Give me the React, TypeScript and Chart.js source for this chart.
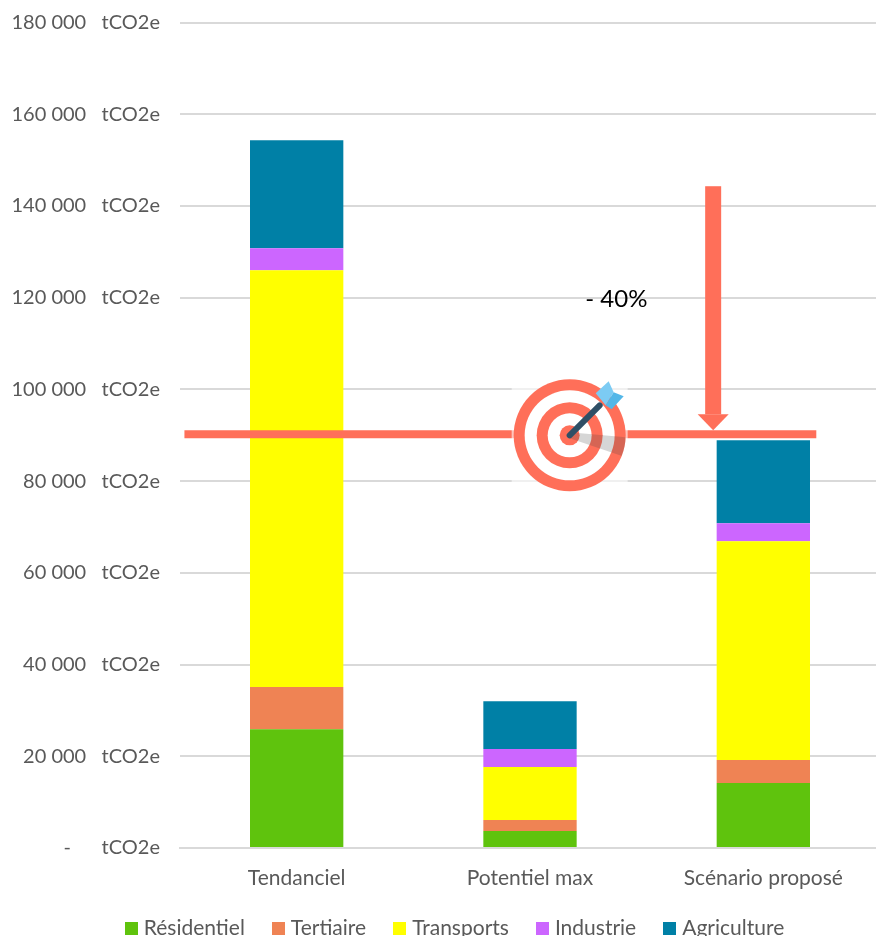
import React, { useEffect, useRef } from "react";
import { Chart, registerables } from "chart.js";

Chart.register(...registerables);

const categories = ["Tendanciel", "Potentiel max", "Scénario proposé"];
const residentiel = [25900, 3700, 14200];
const tertiaire = [9200, 2400, 5000];
const transports = [90900, 11550, 47700];
const industrie = [4750, 3950, 3900];
const agriculture = [23550, 10400, 18100];
const seriesNames = ["Résidentiel", "Tertiaire", "Transports", "Industrie", "Agriculture"];
const seriesColors = ["#5FC30D", "#EF8354", "#FFFF00", "#CC66FF", "#0080A6"];
const yMax = 180000;
const yStep = 20000;
const targetValue = 90200;
const arrowTopValue = 144300;
const targetLabel = "- 40%";
const FONT = "Lato";

function swatch(color: string) {
  const c = document.createElement("canvas");
  c.width = 13;
  c.height = 13;
  const g = c.getContext("2d") as CanvasRenderingContext2D;
  g.fillStyle = color;
  g.fillRect(0, 0, 13, 13);
  return c;
}

const annotationPlugin = {
  id: "annotation",
  afterLayout(chart: any) {
    if (chart.legend) {
      chart.legend.left += 17;
      chart.legend.right += 17;
      chart.legend.top -= 14;
      chart.legend.bottom -= 14;
    }
  },
  afterDatasetsDraw(chart: any) {
    const { ctx, scales } = chart;
    const x = scales.x;
    const y = scales.y;
    const yT = y.getPixelForValue(targetValue);
    ctx.save();
    const red = "#FF6F59";
    // target line
    ctx.strokeStyle = red;
    ctx.lineWidth = 8;
    ctx.beginPath();
    ctx.moveTo(x.getPixelForValue(-0.481), yT);
    ctx.lineTo(x.getPixelForValue(2.227), yT);
    ctx.stroke();
    // arrow
    const ax = x.getPixelForValue(1.785);
    const aTop = y.getPixelForValue(arrowTopValue);
    ctx.fillStyle = red;
    ctx.fillRect(ax - 8, aTop, 16, yT - 20 - aTop);
    ctx.beginPath();
    ctx.moveTo(ax - 15.5, yT - 20);
    ctx.lineTo(ax + 15.5, yT - 20);
    ctx.lineTo(ax, yT - 4);
    ctx.closePath();
    ctx.fill();
    // label
    ctx.fillStyle = "#000000";
    ctx.font = `24px ${FONT}`;
    ctx.textAlign = "center";
    ctx.textBaseline = "middle";
    ctx.fillText(targetLabel, x.getPixelForValue(1.37), y.getPixelForValue(119700));
    // target icon
    const cx = x.getPixelForValue(1.17);
    const cy = yT + 1;
    ctx.fillStyle = "rgba(255,255,255,0.6)";
    ctx.fillRect(cx - 58, cy - 56, 116, 104);
    const rings: [number, string][] = [
      [56, red],
      [45, "#FFFFFF"],
      [33, red],
      [22, "#FFFFFF"],
      [10, red],
    ];
    rings.forEach(([r, c]) => {
      ctx.fillStyle = c;
      ctx.beginPath();
      ctx.arc(cx, cy, r, 0, Math.PI * 2);
      ctx.fill();
    });
    // shadow, clipped on the disc
    ctx.save();
    ctx.beginPath();
    ctx.arc(cx, cy, 56, 0, Math.PI * 2);
    ctx.clip();
    ctx.fillStyle = "rgba(70,70,70,0.22)";
    ctx.beginPath();
    ctx.moveTo(cx, cy - 3);
    ctx.lineTo(cx + 56, cy + 2);
    ctx.lineTo(cx + 56, cy + 22);
    ctx.lineTo(cx, cy + 3);
    ctx.closePath();
    ctx.fill();
    ctx.restore();
    // dart
    ctx.strokeStyle = "#2F4F66";
    ctx.lineWidth = 6;
    ctx.lineCap = "round";
    ctx.beginPath();
    ctx.moveTo(cx, cy);
    ctx.lineTo(cx + 30, cy - 30);
    ctx.stroke();
    ctx.fillStyle = "#7CCBF3";
    ctx.beginPath();
    ctx.moveTo(cx + 26, cy - 42);
    ctx.lineTo(cx + 39, cy - 54);
    ctx.lineTo(cx + 44, cy - 43);
    ctx.lineTo(cx + 36, cy - 30);
    ctx.closePath();
    ctx.fill();
    ctx.fillStyle = "#53B7E8";
    ctx.beginPath();
    ctx.moveTo(cx + 44, cy - 43);
    ctx.lineTo(cx + 54, cy - 39);
    ctx.lineTo(cx + 42, cy - 26);
    ctx.lineTo(cx + 36, cy - 30);
    ctx.closePath();
    ctx.fill();
    ctx.restore();
  },
};

export default function App() {
  const ref = useRef<HTMLCanvasElement>(null);
  useEffect(() => {
    const values = [residentiel, tertiaire, transports, industrie, agriculture];
    const chart = new Chart(ref.current as HTMLCanvasElement, {
      type: "bar",
      data: {
        labels: categories,
        datasets: seriesNames.map((name, i) => ({
          label: name,
          data: values[i],
          backgroundColor: seriesColors[i],
          barPercentage: 1,
          categoryPercentage: 0.4,
        })),
      },
      options: {
        responsive: false,
        animation: false,
        layout: { padding: { left: 0, right: 0, top: 22.5, bottom: 0 } },
        plugins: {
          tooltip: { enabled: false },
          title: { display: false },
          legend: {
            display: true,
            position: "bottom",
            labels: {
              usePointStyle: true,
              pointStyleWidth: 3.5,
              boxHeight: 13,
              padding: 32,
              color: "#595959",
              font: { family: FONT, size: 21 },
              generateLabels: (c: any) =>
                Chart.defaults.plugins.legend.labels
                  .generateLabels(c)
                  .map((l: any, i: number) => ({ ...l, pointStyle: swatch(seriesColors[i]) })),
            },
          },
        },
        scales: {
          x: {
            stacked: true,
            afterFit: (s: any) => { s.height = 52; },
            grid: { display: false, drawTicks: false },
            border: { display: true, color: "#D9D9D9", width: 2 },
            ticks: { color: "#595959", font: { family: FONT, size: 21 }, padding: 18, maxRotation: 0 },
          },
          y: {
            stacked: true,
            min: 0,
            max: yMax,
            afterFit: (s: any) => { s.width = 180; },
            grid: { color: "#D9D9D9", lineWidth: 2, drawTicks: true, tickLength: 20, tickColor: "transparent" },
            border: { display: false },
            ticks: {
              stepSize: yStep,
              padding: 0,
              color: "#595959",
              font: { family: FONT, size: 20 },
              callback: (v: any) =>
                v === 0 ? "-      tCO2e" : `${String(v / 1000)} 000   tCO2e`,
            },
          },
        },
      },
      plugins: [annotationPlugin],
    } as any);
    return () => chart.destroy();
  }, []);
  return (
    <div style={{ position: "absolute", left: 0, top: 0, width: 876, height: 936, overflow: "hidden", background: "#fff" }}>
      <canvas ref={ref} width={880} height={963} style={{ display: "block" }} />
    </div>
  );
}
